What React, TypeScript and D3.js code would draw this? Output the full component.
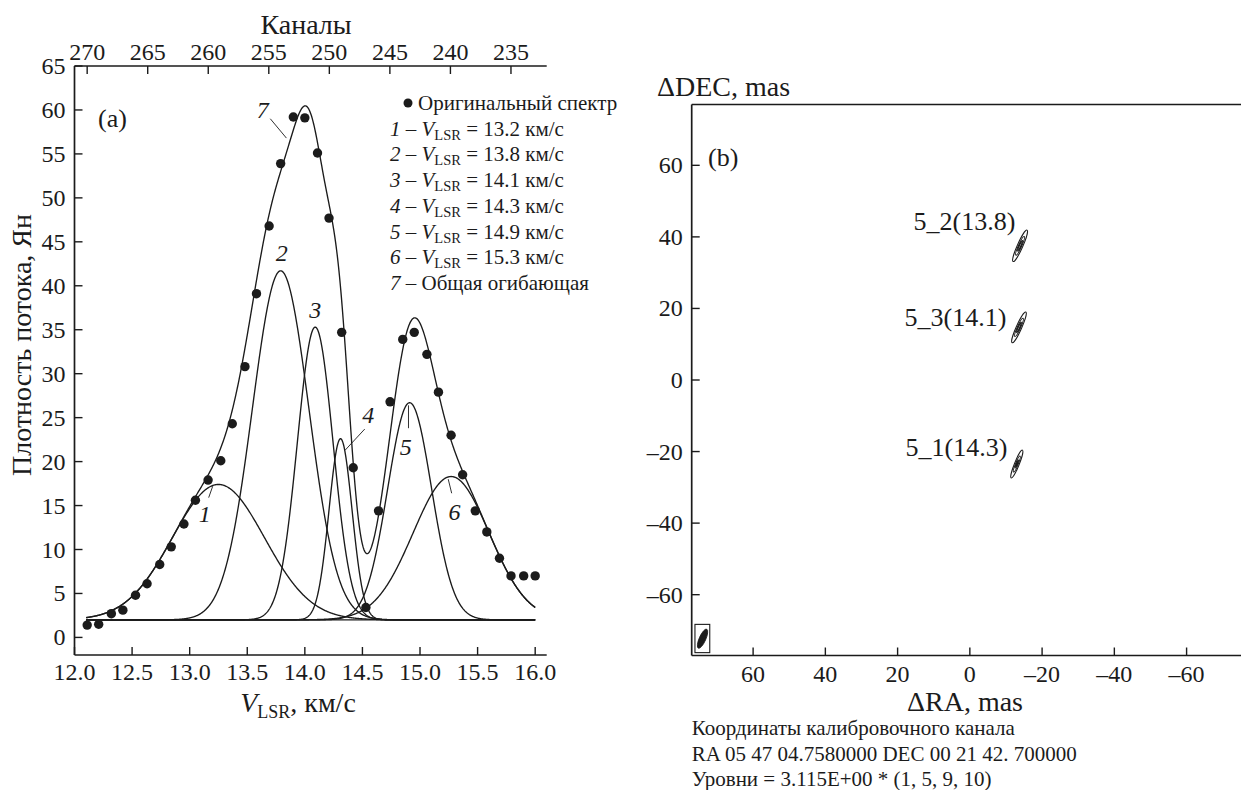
import React from 'react';
import * as d3 from 'd3';

// ---------- Panel (a) data ----------
const channels = [270, 269, 268, 267, 266, 265, 264, 263, 262, 261, 260, 259, 258, 257, 256, 255, 254, 253, 252, 251, 250, 249, 248, 247, 246, 245, 244, 243, 242, 241, 240, 239, 238, 237, 236, 235, 234, 233];
const velocities = [12.11, 12.21, 12.32, 12.42, 12.53, 12.63, 12.74, 12.84, 12.95, 13.05, 13.16, 13.27, 13.37, 13.48, 13.58, 13.69, 13.79, 13.90, 14.00, 14.11, 14.21, 14.32, 14.42, 14.53, 14.64, 14.74, 14.85, 14.95, 15.06, 15.16, 15.27, 15.37, 15.48, 15.58, 15.69, 15.79, 15.90, 16.00];
const flux = [1.4, 1.5, 2.7, 3.1, 4.8, 6.1, 8.3, 10.3, 12.9, 15.6, 17.9, 20.1, 24.3, 30.8, 39.1, 46.8, 53.9, 59.2, 59.1, 55.1, 47.7, 34.7, 19.3, 3.4, 14.4, 26.8, 33.9, 34.7, 32.2, 27.9, 23.0, 18.5, 14.4, 12.0, 9.0, 7.0, 7.0, 7.0];

const componentCenters = [13.25, 13.79, 14.09, 14.31, 14.91, 15.27];
const componentPeaks = [17.4, 41.7, 35.3, 22.6, 26.7, 18.3];
const componentSigmas = [0.40, 0.245, 0.155, 0.10, 0.19, 0.33];
const baselineFlux = 2.0;
const fitStart = 12.1;
const fitEnd = 16.0;

const legendIds = ['1', '2', '3', '4', '5', '6'];
const legendVelocities = ['13.2', '13.8', '14.1', '14.3', '14.9', '15.3'];

const velocityTicks = [12.0, 12.5, 13.0, 13.5, 14.0, 14.5, 15.0, 15.5, 16.0];
const fluxTicks = [0, 5, 10, 15, 20, 25, 30, 35, 40, 45, 50, 55, 60, 65];
const channelTicks = [270, 265, 260, 255, 250, 245, 240, 235];

// curve number labels (velocity, flux) and leader lines
const curveLabelText = ['1', '2', '3', '4', '5', '6', '7'];
const curveLabelV = [13.13, 13.80, 14.09, 14.55, 14.876, 15.30, 13.634];
const curveLabelF = [14.0, 43.7, 37.2, 25.3, 21.7, 14.3, 60.0];
const leaderV1 = [13.165, null, null, 14.52, 14.90, 15.245, 13.70];
const leaderF1 = [15.9, null, null, 23.7, 26.4, 18.0, 59.0];
const leaderV2 = [13.2, null, null, 14.35, 14.90, 15.275, 13.84];
const leaderF2 = [17.2, null, null, 21.3, 23.8, 16.4, 56.8];

// ---------- Panel (b) data ----------
const spotNames = ['5_2(13.8)', '5_3(14.1)', '5_1(14.3)'];
const spotRA = [-13.9, -13.6, -13.0];
const spotDEC = [37.5, 14.7, -23.5];
const spotMajor = [9.6, 9.4, 8.4];
const spotMinor = [1.5, 1.5, 1.3];
const spotPA = [24, 24, 22];
const spotPeak = [12, 12, 11];
const labelRA = [-12.6, -10.1, -10.4];
const labelDEC = [44.3, 17.7, -18.7];
const contourLevels = [1, 5, 9, 10];
const beamRA = 74.0;
const beamDEC = -72.3;
const beamMajor = 5.8;
const beamMinor = 0.9;
const beamPA = 24;
const beamBoxRA = [76.1, 72.0];
const beamBoxDEC = [-68.3, -76.2];
const raTicks = [60, 40, 20, 0, -20, -40, -60];
const decTicks = [-60, -40, -20, 0, 20, 40, 60];
const infoLines = [
  'Координаты калибровочного канала',
  'RA 05 47 04.7580000 DEC 00 21 42. 700000',
  'Уровни = 3.115E+00 * (1, 5, 9, 10)',
];

const FONT = '"Liberation Serif", "Times New Roman", Times, serif';
const INK = '#1b1b1b';

export default function App() {
  const x = d3.scaleLinear().domain([12.0, 16.1]).range([74.5, 546.7]);
  const y = d3.scaleLinear().domain([-2, 65]).range([655, 66]);
  const chToV = d3.scaleLinear()
    .domain([channels[0], channels[channels.length - 1]])
    .range([velocities[0], velocities[velocities.length - 1]]);

  const samples = d3.range(fitStart, fitEnd + 1e-9, 0.004);
  const comp = (i: number, v: number) =>
    (componentPeaks[i] - baselineFlux) * Math.exp(-((v - componentCenters[i]) ** 2) / (2 * componentSigmas[i] ** 2));
  const line = d3.line<[number, number]>().x(d => x(d[0])).y(d => y(d[1]));
  const compPaths = componentCenters.map((_, i) =>
    line(samples.map(v => [v, baselineFlux + comp(i, v)] as [number, number])) || '');
  const envPath = line(samples.map(v => [v, baselineFlux + componentCenters.reduce((s, _, i) => s + comp(i, v), 0)] as [number, number])) || '';
  const basePath = line([[fitStart, baselineFlux], [fitEnd, baselineFlux]]) || '';

  const xr = d3.scaleLinear().domain([77, -77]).range([691.7, 1248]);
  const yr = d3.scaleLinear().domain([-77, 77]).range([655.5, 104.5]);
  const pxPerMasX = Math.abs(xr(1) - xr(0));
  const pxPerMasY = Math.abs(yr(1) - yr(0));

  const x0 = x.range()[0], x1 = x.range()[1];
  const yTop = y.range()[1], yBot = y.range()[0];
  const rx0 = xr.range()[0], rx1 = xr.range()[1];
  const ryTop = yr.range()[1], ryBot = yr.range()[0];

  const tick = 8;

  return (
    <svg width={1241} height={790} style={{ position: 'absolute', left: 0, top: 0, background: '#fff' }}
      fontFamily={FONT} fill={INK}>
      <rect x={0} y={0} width={1241} height={790} fill="#fff" />
      {/* ---------- Panel (a) ---------- */}
      <g stroke={INK} strokeWidth={1.7} fill="none">
        <line x1={x0} y1={yTop} x2={x0} y2={yBot} />
        <line x1={x0} y1={yBot} x2={x1} y2={yBot} />
        <line x1={x0} y1={yTop} x2={x1} y2={yTop} />
      </g>
      {fluxTicks.map(t => (
        <g key={'ft' + t}>
          <line x1={x0} x2={x0 + tick} y1={y(t)} y2={y(t)} stroke={INK} strokeWidth={1.4} />
          <text x={x0 - 9} y={y(t) + 8} textAnchor="end" fontSize={24}>{t}</text>
        </g>
      ))}
      {velocityTicks.map(t => (
        <g key={'vt' + t}>
          <line x1={x(t)} x2={x(t)} y1={yBot} y2={yBot - tick} stroke={INK} strokeWidth={1.4} />
          <text x={x(t)} y={yBot + 25} textAnchor="middle" fontSize={24}>{t.toFixed(1)}</text>
        </g>
      ))}
      {channelTicks.map(c => (
        <g key={'ct' + c}>
          <line x1={x(chToV(c))} x2={x(chToV(c))} y1={yTop} y2={yTop + tick} stroke={INK} strokeWidth={1.4} />
          <text x={x(chToV(c))} y={yTop - 6} textAnchor="middle" fontSize={24}>{c}</text>
        </g>
      ))}
      <text x={306} y={34} textAnchor="middle" fontSize={28}>Каналы</text>
      <text x={298} y={712} textAnchor="middle" fontSize={28}>
        <tspan fontStyle="italic">V</tspan>
        <tspan fontSize={18} dy={6}>LSR</tspan>
        <tspan dy={-6}>, км/с</tspan>
      </text>
      <text transform={`translate(31,214) rotate(-90)`} textAnchor="end" fontSize={28}>
        Плотность потока, Ян
      </text>
      <text x={98} y={127} fontSize={26}>(a)</text>

      <g fill="none" stroke={INK} strokeWidth={1.35}>
        <path d={basePath} />
        {compPaths.map((d, i) => <path key={'c' + i} d={d} />)}
        <path d={envPath} />
      </g>
      {velocities.map((v, i) => (
        <circle key={'p' + i} cx={x(v)} cy={y(flux[i])} r={4.7} fill={INK} />
      ))}
      {curveLabelText.map((t, i) => (
        <g key={'cl' + i}>
          <text x={x(curveLabelV[i])} y={y(curveLabelF[i]) + 8} textAnchor="middle" fontSize={24} fontStyle="italic">{t}</text>
          {leaderV1[i] !== null && (
            <line x1={x(leaderV1[i] as number)} y1={y(leaderF1[i] as number)} x2={x(leaderV2[i] as number)} y2={y(leaderF2[i] as number)}
              stroke={INK} strokeWidth={0.9} />
          )}
        </g>
      ))}
      <g fontSize={21}>
        <circle cx={408} cy={103} r={4.5} fill={INK} />
        <text x={418} y={110}>Оригинальный спектр</text>
        {legendIds.map((id, i) => (
          <text key={'lg' + i} x={390} y={110 + (i + 1) * 25.7}>
            <tspan fontStyle="italic">{id}</tspan>
            <tspan> – </tspan>
            <tspan fontStyle="italic">V</tspan>
            <tspan fontSize={14.5} dy={4}>LSR</tspan>
            <tspan dy={-4}> = {legendVelocities[i]} км/с</tspan>
          </text>
        ))}
        <text x={390} y={110 + 7 * 25.7}>
          <tspan fontStyle="italic">7</tspan>
          <tspan> – Общая огибающая</tspan>
        </text>
      </g>

      {/* ---------- Panel (b) ---------- */}
      <g stroke={INK} strokeWidth={1.7} fill="none">
        <line x1={rx0} y1={ryTop} x2={rx0} y2={ryBot} />
        <line x1={rx0} y1={ryBot} x2={rx1} y2={ryBot} />
        <line x1={rx0} y1={ryTop} x2={rx1} y2={ryTop} />
        <line x1={rx1} y1={ryTop} x2={rx1} y2={ryBot} />
      </g>
      {decTicks.map(t => (
        <g key={'dt' + t}>
          <line x1={rx0} x2={rx0 + tick} y1={yr(t)} y2={yr(t)} stroke={INK} strokeWidth={1.4} />
          <text x={rx0 - 9} y={yr(t) + 8} textAnchor="end" fontSize={24}>{t < 0 ? '–' + Math.abs(t) : t}</text>
        </g>
      ))}
      {raTicks.map(t => (
        <g key={'rt' + t}>
          <line x1={xr(t)} x2={xr(t)} y1={ryBot} y2={ryBot - tick} stroke={INK} strokeWidth={1.4} />
          <text x={xr(t)} y={ryBot + 26} textAnchor="middle" fontSize={24}>{t < 0 ? '–' + Math.abs(t) : t}</text>
        </g>
      ))}
      <text x={657} y={96} fontSize={28}>ΔDEC, mas</text>
      <text x={965} y={711} textAnchor="middle" fontSize={28}>ΔRA, mas</text>
      <text x={708} y={166} fontSize={26}>(b)</text>

      {spotNames.map((name, i) => {
        const cx = xr(spotRA[i]);
        const cy = yr(spotDEC[i]);
        const P = spotPeak[i];
        return (
          <g key={'s' + i}>
            <text x={xr(labelRA[i])} y={yr(labelDEC[i]) + 9} textAnchor="end" fontSize={26}>{name}</text>
            <g transform={`translate(${cx},${cy}) rotate(${spotPA[i]})`} fill="none" stroke={INK} strokeWidth={1.0}>
              {contourLevels.filter(l => l < P).map((l, k) => {
                const f = Math.sqrt(Math.log(P / l) / Math.log(P));
                return <ellipse key={k} cx={0} cy={0} rx={(spotMinor[i] * pxPerMasX / 2) * f} ry={(spotMajor[i] * pxPerMasY / 2) * f} />;
              })}
            </g>
          </g>
        );
      })}
      <rect x={xr(beamBoxRA[0])} y={yr(beamBoxDEC[0])} width={xr(beamBoxRA[1]) - xr(beamBoxRA[0])}
        height={yr(beamBoxDEC[1]) - yr(beamBoxDEC[0])} fill="none" stroke={INK} strokeWidth={1.1} />
      <ellipse transform={`translate(${xr(beamRA)},${yr(beamDEC)}) rotate(${beamPA})`} cx={0} cy={0}
        rx={beamMinor * pxPerMasX} ry={beamMajor * pxPerMasY / 2} fill={INK} stroke={INK} strokeWidth={0.8} />

      <g fontSize={21}>
        {infoLines.map((t, i) => (
          <text key={'il' + i} x={rx0} y={735 + i * 25.5}>{t}</text>
        ))}
      </g>
    </svg>
  );
}
